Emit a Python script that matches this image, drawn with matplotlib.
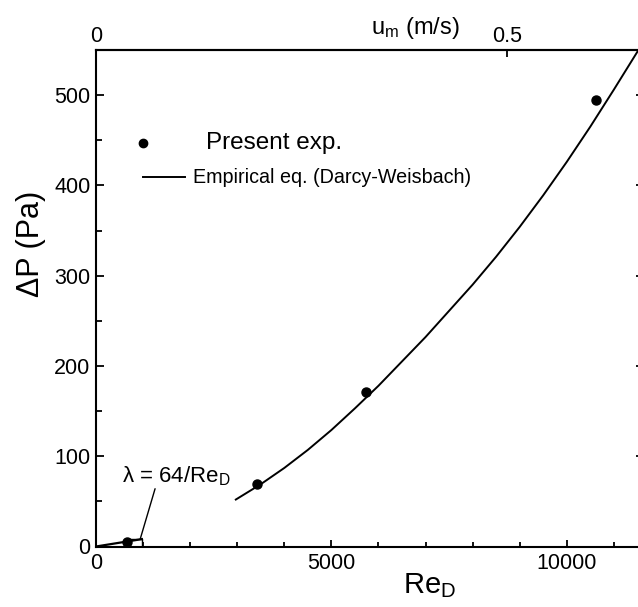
import matplotlib
matplotlib.use("Agg")
import matplotlib.pyplot as plt
from matplotlib.lines import Line2D
from matplotlib.patches import Rectangle
from matplotlib.ticker import MultipleLocator, FixedLocator

plt.rcParams['font.family'] = ['Liberation Sans', 'DejaVu Sans']
plt.rcParams['mathtext.fontset'] = 'custom'
plt.rcParams['mathtext.rm'] = 'Liberation Sans'
plt.rcParams['mathtext.it'] = 'Liberation Sans:italic'

# Data
exp_re = [652, 3427, 5730, 10622]
exp_dp = [5.3, 69, 171, 495]

emp_re = [2970, 3500, 4000, 4500, 5000, 5500, 6000, 6500, 7000, 7500,
          8000, 8500, 9000, 9500, 10000, 10500, 11000, 11500]
emp_dp = [52, 69, 87, 107, 129, 153, 178, 205, 232, 261,
          290, 321, 354, 389, 426, 465, 506, 548]

lam_re = [0, 975]
lam_dp = [0, 8.2]

# Re at u_m = 0.5 m/s
re_at_half = 8725.0

fig = plt.figure(figsize=(6.38, 6.07), dpi=100)
W, H = 638, 607
left_px, right_px, top_px, bot_px = 96, 644.4, 50, 546.5
ax = fig.add_axes([left_px / W, (H - bot_px) / H,
                   (right_px - left_px) / W, (bot_px - top_px) / H])

ax.plot(emp_re, emp_dp, color='black', lw=1.4, zorder=2)
ax.plot(lam_re, lam_dp, color='black', lw=1.6, zorder=2)
ax.plot(exp_re, exp_dp, 'o', color='black', ms=6.5, zorder=3)

ax.add_patch(Rectangle((655, 0), 320, 8.4, fill=False, ec='black', lw=1.0,
                       zorder=2))
ax.annotate('', xy=(940, 8.4), xytext=(1255, 64),
            arrowprops=dict(arrowstyle='-', lw=1.0, color='black',
                            shrinkA=0, shrinkB=0))
ax.text(560, 78, 'λ = 64/Re$_\\mathrm{D}$', fontsize=16, ha='left',
        va='center')

ax.set_xlim(0, 11650)
ax.set_ylim(0, 550)

ax.xaxis.set_major_locator(FixedLocator([0, 5000, 10000]))
ax.xaxis.set_minor_locator(MultipleLocator(1000))
ax.yaxis.set_major_locator(MultipleLocator(100))
ax.yaxis.set_minor_locator(MultipleLocator(50))

for s in ax.spines.values():
    s.set_linewidth(1.5)

ax.tick_params(axis='x', which='both', direction='in', top=False,
               labelsize=15.5, pad=5)
ax.tick_params(axis='x', which='major', length=5, width=1.3)
ax.tick_params(axis='x', which='minor', length=3.5, width=1.3)
ax.tick_params(axis='y', which='both', direction='in', right=True,
               labelsize=15.5, pad=4)
ax.tick_params(axis='y', which='major', length=6, width=1.3)
ax.tick_params(axis='y', which='minor', length=4, width=1.3, right=False)

sec = ax.secondary_xaxis('top', functions=(lambda r: r * 0.5 / re_at_half,
                                            lambda u: u * re_at_half / 0.5))
sec.set_xticks([0, 0.5])
sec.set_xticklabels(['0', '0.5'])
sec.tick_params(direction='in', length=5, width=1.3, labelsize=15.5, pad=2)
sec.spines['top'].set_linewidth(1.5)
sec.set_xlabel('u$_\\mathrm{m}$ (m/s)', fontsize=17)
sec.xaxis.set_label_coords(0.583, 1.032, transform=ax.transAxes)

ax.set_xlabel('Re$_\\mathrm{D}$', fontsize=21)
ax.xaxis.set_label_coords(0.609, -0.050)
ax.set_ylabel('ΔP (Pa)', fontsize=22)
ax.yaxis.set_label_coords(-0.091, 0.61)

# Legend
ax.add_line(Line2D([0.0857], [0.8133], marker='o', color='black', ms=6,
                   transform=ax.transAxes))
ax.text(0.2006, 0.8133, 'Present exp.', fontsize=17.5, va='center',
        ha='left', transform=ax.transAxes)
ax.add_line(Line2D([0.0857, 0.1623], [0.7442, 0.7442], color='black', lw=1.4,
                   transform=ax.transAxes))
ax.text(0.1769, 0.7442, 'Empirical eq. (Darcy-Weisbach)', fontsize=14.2,
        va='center', ha='left', transform=ax.transAxes)

fig.savefig('out.png', dpi=100)
